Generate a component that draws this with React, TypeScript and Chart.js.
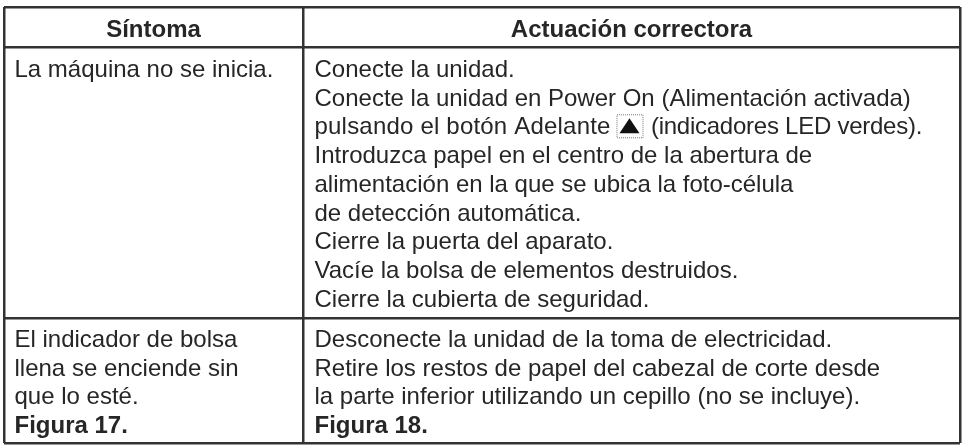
import React, { useEffect, useRef } from "react";
import { Chart, registerables } from "chart.js";

Chart.register(...registerables);

const columnEdges = [4, 303, 960];
const rowEdges = [7, 47, 318, 443];
const headers = ["Síntoma", "Actuación correctora"];
const symptomOne = ["La máquina no se inicia."];
const fixOne = [
  "Conecte la unidad.",
  "Conecte la unidad en Power On (Alimentación activada)",
  "pulsando el botón Adelante @ (indicadores LED verdes).",
  "Introduzca papel en el centro de la abertura de",
  "alimentación en la que se ubica la foto-célula",
  "de detección automática.",
  "Cierre la puerta del aparato.",
  "Vacíe la bolsa de elementos destruidos.",
  "Cierre la cubierta de seguridad.",
];
const symptomTwo = ["El indicador de bolsa", "llena se enciende sin", "que lo esté."];
const symptomTwoFigure = "Figura 17.";
const fixTwo = [
  "Desconecte la unidad de la toma de electricidad.",
  "Retire los restos de papel del cabezal de corte desde",
  "la parte inferior utilizando un cepillo (no se incluye).",
];
const fixTwoFigure = "Figura 18.";

const FONT = '"Liberation Sans", Arial, sans-serif';
const INK = "#262626";
const LINE = "#333333";
const SIZE = 24;
const STEP = 28.75;
const LEFT_ONE = 14.5;
const LEFT_TWO = 314.5;

const tablePlugin = {
  id: "tableText",
  afterDraw(chart: any) {
    const { ctx, scales } = chart;
    const x = (v: number) => scales.x.getPixelForValue(v);
    const y = (v: number) => scales.y.getPixelForValue(v);
    ctx.save();
    ctx.fillStyle = INK;
    ctx.textBaseline = "alphabetic";

    ctx.font = `bold ${SIZE}px ${FONT}`;
    ctx.textAlign = "center";
    ctx.fillText(headers[0], x((columnEdges[0] + columnEdges[1]) / 2), y(36.5));
    ctx.fillText(headers[1], x((columnEdges[1] + columnEdges[2]) / 2), y(36.5));

    ctx.textAlign = "left";
    const block = (lines: string[], left: number, top: number) => {
      lines.forEach((line, i) => {
        const base = y(top + i * STEP);
        if (line.includes("@")) {
          const [a, b] = line.split("@");
          ctx.letterSpacing = "0.2px";
          ctx.fillText(a, x(left), base);
          const w = ctx.measureText(a).width;
          ctx.letterSpacing = "0px";
          const ix = x(left) + w;
          ctx.save();
          ctx.setLineDash([1, 1]);
          ctx.strokeStyle = "#777777";
          ctx.lineWidth = 1;
          ctx.strokeRect(ix - 0.5, base - 19.5, 26, 23);
          ctx.fillStyle = "#111111";
          ctx.beginPath();
          ctx.moveTo(ix + 12, base - 16);
          ctx.lineTo(ix + 22, base - 1);
          ctx.lineTo(ix + 2, base - 1);
          ctx.closePath();
          ctx.fill();
          ctx.restore();
          ctx.letterSpacing = "-0.25px";
          ctx.fillText(b, ix + 27, base);
          ctx.letterSpacing = "0px";
        } else {
          ctx.fillText(line, x(left), base);
        }
      });
    };
    ctx.font = `${SIZE}px ${FONT}`;
    block(symptomOne, LEFT_ONE, 76.8);
    block(fixOne, LEFT_TWO, 76.8);
    block(symptomTwo, LEFT_ONE, 346.8);
    block(fixTwo, LEFT_TWO, 346.8);
    ctx.font = `bold ${SIZE}px ${FONT}`;
    block([symptomTwoFigure], LEFT_ONE, 346.8 + 3 * STEP);
    block([fixTwoFigure], LEFT_TWO, 346.8 + 3 * STEP);
    ctx.restore();
  },
};

export default function App() {
  const ref = useRef<HTMLCanvasElement>(null);
  useEffect(() => {
    if (!ref.current) return;
    const grid = { display: true, color: LINE, lineWidth: 2.5, drawTicks: false };
    const chart = new Chart(ref.current, {
      type: "scatter",
      data: { datasets: [{ data: [], pointRadius: 0 }] },
      options: {
        animation: false,
        responsive: false,
        layout: {
          padding: {
            left: columnEdges[0],
            right: 964 - columnEdges[2],
            top: rowEdges[0],
            bottom: 446 - rowEdges[3],
          },
        },
        plugins: { legend: { display: false }, tooltip: { enabled: false } },
        scales: {
          x: {
            type: "linear",
            min: columnEdges[0],
            max: columnEdges[2],
            grid,
            border: { display: false },
            ticks: { display: false },
            afterBuildTicks: (axis: any) => {
              axis.ticks = columnEdges.map((value) => ({ value }));
            },
          },
          y: {
            type: "linear",
            reverse: true,
            min: rowEdges[0],
            max: rowEdges[3],
            grid,
            border: { display: false },
            ticks: { display: false },
            afterBuildTicks: (axis: any) => {
              axis.ticks = rowEdges.map((value) => ({ value }));
            },
          },
        },
      },
      plugins: [tablePlugin],
    } as any);
    return () => chart.destroy();
  }, []);
  return (
    <div style={{ position: "fixed", left: 0, top: 0, width: 964, height: 446, background: "#fff" }}>
      <canvas ref={ref} width={964} height={446} style={{ display: "block" }} />
    </div>
  );
}
